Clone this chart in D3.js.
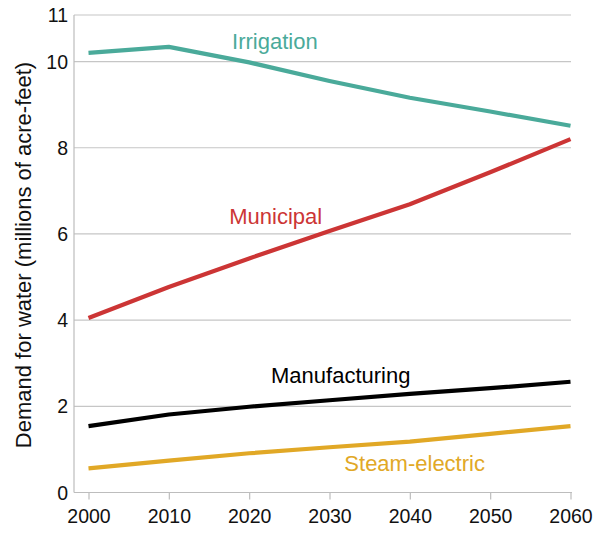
<!DOCTYPE html>
<html>
<head>
<meta charset="utf-8">
<script src="https://cdn.jsdelivr.net/npm/d3@7"></script>
<style>
  html, body { margin: 0; padding: 0; background: #fff; }
  svg { display: block; font-family: "Liberation Sans", Arial, sans-serif; }
</style>
</head>
<body>
<svg id="chart" width="603" height="533"></svg>
<script>
const years = [2000, 2010, 2020, 2030, 2040, 2050, 2060];
const irrigation = [10.20, 10.34, 9.98, 9.55, 9.16, 8.84, 8.51];
const municipal = [4.05, 4.77, 5.43, 6.07, 6.69, 7.43, 8.20];
const manufacturing = [1.54, 1.81, 1.99, 2.14, 2.29, 2.42, 2.57];
const steamElectric = [0.56, 0.74, 0.91, 1.05, 1.18, 1.36, 1.54];
const yTickValues = [0, 2, 4, 6, 8, 10, 11.08];
const yTickLabels = ["0", "2", "4", "6", "8", "10", "11"];
const seriesNames = ["Irrigation", "Municipal", "Manufacturing", "Steam-electric"];
const seriesColors = ["#4aaa9a", "#cc3535", "#000000", "#e1a826"];

(function () {
const svg = d3.select("#chart");
const pL = 74, pR = 572, pT = 15, pB = 492.5;
const x = d3.scaleLinear().domain([2000, 2060]).range([88.5, 570.5]);
const y = d3.scaleLinear().domain([0, 11.08]).range([pB, pT]);

// gridlines
svg.append("g").selectAll("line").data(yTickValues.slice(1)).join("line")
  .attr("x1", pL).attr("x2", pR - 1)
  .attr("y1", d => y(d)).attr("y2", d => y(d))
  .attr("stroke", "#c6c6c6").attr("stroke-width", 1.2);

// y axis line
svg.append("line").attr("x1", pL).attr("x2", pL).attr("y1", pT).attr("y2", pB)
  .attr("stroke", "#bdbdbd").attr("stroke-width", 1.2);

// y tick labels
svg.append("g").selectAll("text").data(yTickValues).join("text")
  .attr("x", pL - 6).attr("y", d => y(d)).attr("dy", "0.36em")
  .attr("text-anchor", "end").attr("font-size", 19.5).attr("fill", "#111")
  .text((d, i) => yTickLabels[i]);

// x axis
const xAxis = d3.axisBottom(x).tickValues(years).tickFormat(d3.format("d")).tickSize(7).tickSizeOuter(0);
const gx = svg.append("g").attr("transform", `translate(0,${pB})`).call(xAxis);
gx.select(".domain").remove();
gx.append("line").attr("x1", pL).attr("x2", pR).attr("y1", 0).attr("y2", 0)
  .attr("stroke", "#bdbdbd").attr("stroke-width", 1.2);
gx.selectAll(".tick line").attr("stroke", "#bdbdbd").attr("stroke-width", 1.2);
gx.selectAll(".tick text").attr("font-size", 19.5).attr("fill", "#111")
  .attr("font-family", "Liberation Sans, Arial, sans-serif").attr("dy", "1.05em");

// y axis title
svg.append("text")
  .attr("transform", "translate(31,255) rotate(-90)")
  .attr("text-anchor", "middle").attr("font-size", 22).attr("fill", "#111")
  .text("Demand for water (millions of acre-feet)");

// lines
const allSeries = [irrigation, municipal, manufacturing, steamElectric];
const line = d3.line().x((d, i) => x(years[i])).y(d => y(d));
svg.append("g").selectAll("path").data(allSeries).join("path")
  .attr("d", d => line(d)).attr("fill", "none")
  .attr("stroke", (d, i) => seriesColors[i]).attr("stroke-width", 4.2)
  .attr("stroke-linejoin", "round");

// labels (anchored at a year/value position)
const labelAnchors = [
  { yr: 2023.2, v: 10.30 },
  { yr: 2023.3, v: 6.24 },
  { yr: 2031.4, v: 2.55 },
  { yr: 2040.6, v: 0.50 }
];
svg.append("g").selectAll("text").data(labelAnchors).join("text")
  .attr("x", d => x(d.yr)).attr("y", d => y(d.v))
  .attr("text-anchor", "middle").attr("font-size", 22)
  .attr("fill", (d, i) => seriesColors[i])
  .text((d, i) => seriesNames[i]);
})();
</script>
</body>
</html>
